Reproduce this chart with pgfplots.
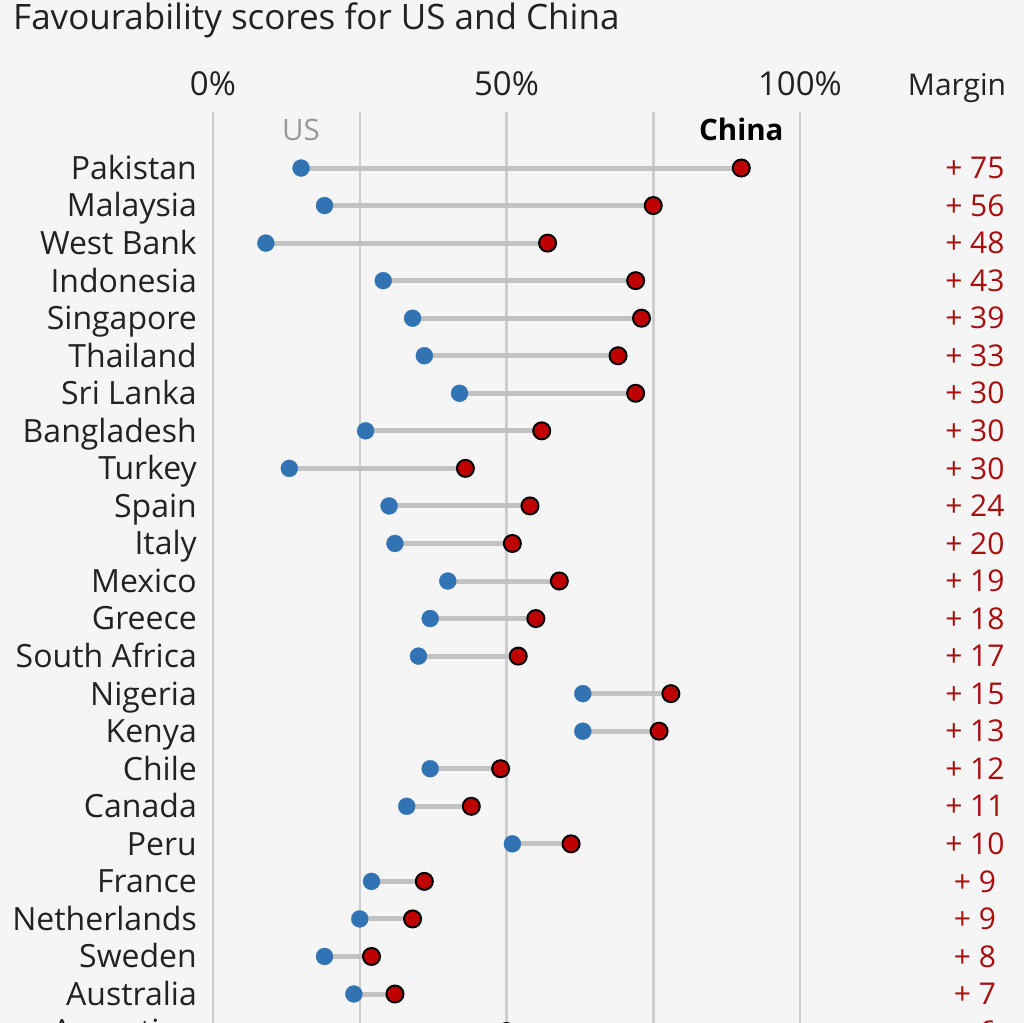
\documentclass[border=0pt]{standalone}
\usepackage{fontspec}
\setmainfont{Open Sans}
\usepackage{pgfplots}
\usepackage{pgfplotstable}
\pgfplotsset{compat=1.18}
\definecolor{bg}{HTML}{F5F5F5}
\definecolor{txt}{HTML}{222222}
\definecolor{gridc}{HTML}{CDCDCD}
\definecolor{seg}{HTML}{C2C2C2}
\definecolor{usblue}{HTML}{3273B3}
\definecolor{cnred}{HTML}{BE0000}
\definecolor{mred}{HTML}{A80E0E}
\definecolor{usgrey}{HTML}{999999}

\pgfplotstableread{
idx country us china margin
0 Pakistan 15 90 75
1 Malaysia 19 75 56
2 {West Bank} 9 57 48
3 Indonesia 29 72 43
4 Singapore 34 73 39
5 Thailand 36 69 33
6 {Sri Lanka} 42 72 30
7 Bangladesh 26 56 30
8 Turkey 13 43 30
9 Spain 30 54 24
10 Italy 31 51 20
11 Mexico 40 59 19
12 Greece 37 55 18
13 {South Africa} 35 52 17
14 Nigeria 63 78 15
15 Kenya 63 76 13
16 Chile 37 49 12
17 Canada 33 44 11
18 Peru 51 61 10
19 France 27 36 9
20 Netherlands 25 34 9
21 Sweden 19 27 8
22 Australia 24 31 7
23 Argentina 44 50 6
}\data

\begin{document}
\begin{tikzpicture}
\fill[bg] (0bp,0bp) rectangle (1024bp,-1023bp);
\node[anchor=base west, inner sep=0pt, font=\fontsize{35bp}{40bp}\selectfont, text=txt] at (13bp,-29bp) {Favourability scores for US and China};
\node[anchor=base, inner sep=0pt, font=\fontsize{30bp}{36bp}\selectfont, text=txt] at (957bp,-95bp) {Margin};
\begin{axis}[
  x=5.87bp, y=37.545bp, y dir=reverse,
  anchor=origin, at={(213bp,-168bp)},
  xmin=0, xmax=100, ymin=-1.4915, ymax=23.5,
  clip=false,
  axis line style={draw=none},
  major tick length=0pt,
  tick style={draw=none},
  xtick={0,25,50,75,100},
  xticklabels={0\%,,50\%,,100\%},
  xticklabel pos=upper,
  xticklabel style={anchor=base, inner sep=0pt, yshift=17bp, font=\fontsize{33bp}{38bp}\selectfont, text=txt},
  xmajorgrids,
  major grid style={draw=gridc, line width=2.5bp},
  ytick={0,1,...,23},
  yticklabels from table={\data}{country},
  yticklabel style={anchor=base east, inner sep=0pt, xshift=-16bp, yshift=-11.4bp, font=\fontsize{32bp}{38bp}\selectfont, text=txt},
]
\addplot[draw=none, mark=none, forget plot,
  error bars/.cd, x dir=plus, x explicit, error mark=none,
  error bar style={draw=seg, line width=5bp, line cap=butt}]
  table[x=us, y=idx, x error expr=\thisrow{china}-\thisrow{us}] {\data};
\addplot[only marks, mark=*, mark size=8.5bp, mark options={fill=usblue, draw=usblue, line width=0.3bp}]
  table[x=us, y=idx] {\data};
\addplot[only marks, mark=*, mark size=8.5bp, mark options={fill=cnred, draw=black, line width=2bp}]
  table[x=china, y=idx] {\data};
\addplot[only marks, mark=*, mark size=0pt, mark options={draw=none, fill=none},
  point meta=explicit symbolic,
  nodes near coords={+ \pgfplotspointmeta},
  every node near coord/.style={anchor=base, inner sep=0pt, yshift=-10.7bp, font=\fontsize{30bp}{36bp}\selectfont, text=mred}]
  table[x expr=129.8, y=idx, meta=margin] {\data};
\node[anchor=base, inner sep=0pt, yshift=-10.3bp, font=\fontsize{29.5bp}{34bp}\selectfont, text=usgrey] at (axis cs:15,-1) {US};
\node[anchor=base, inner sep=0pt, yshift=-10.3bp, font=\fontsize{29.5bp}{34bp}\selectfont\bfseries, text=black] at (axis cs:90,-1) {China};
\end{axis}
\pgfresetboundingbox
\path[use as bounding box] (0bp,0bp) rectangle (1024bp,-1023bp);
\end{tikzpicture}
\end{document}
